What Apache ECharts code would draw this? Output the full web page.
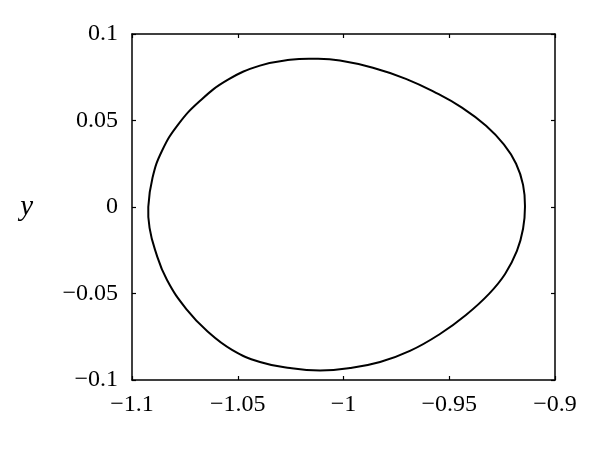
<!DOCTYPE html>
<html>
<head>
<meta charset="utf-8">
<script src="https://cdn.jsdelivr.net/npm/echarts@6/dist/echarts.min.js"></script>
<style>html,body{margin:0;padding:0;background:#fff}#c{width:600px;height:457px}</style>
</head>
<body>
<div id="c"></div>
<script>
// Closed orbit traced clockwise from the leftmost point
var orbitX = [-1.0923, -1.0903, -1.0858, -1.0783, -1.0678, -1.0546, -1.0395, -1.0253, -1.0135, -1.0017,
              -0.9861, -0.9705, -0.9563, -0.9440, -0.9326, -0.9241, -0.9184, -0.9151, -0.9142, -0.9151,
              -0.9180, -0.9236, -0.9312, -0.9421, -0.9544, -0.9686, -0.9827, -0.9969, -1.0111, -1.0253,
              -1.0395, -1.0527, -1.0645, -1.0740, -1.0835, -1.0891, -1.0917];
var orbitY = [0.0000, 0.0169, 0.0325, 0.0475, 0.0614, 0.0736, 0.0817, 0.0851, 0.0857, 0.0847,
              0.0805, 0.0741, 0.0660, 0.0574, 0.0469, 0.0360, 0.0250, 0.0128, 0.0000, -0.0126,
              -0.0254, -0.0387, -0.0502, -0.0624, -0.0734, -0.0832, -0.0896, -0.0931, -0.0945, -0.0931,
              -0.0896, -0.0826, -0.0717, -0.0595, -0.0421, -0.0248, -0.0121];
var xTickValues = [-1.1, -1.05, -1, -0.95, -0.9];
var xTickLabels = ["\u22121.1", "\u22121.05", "\u22121", "\u22120.95", "\u22120.9"];
var yTickValues = [-0.1, -0.05, 0, 0.05, 0.1];
var yTickLabels = ["\u22120.1", "\u22120.05", "0", "0.05", "0.1"];

function lab(vals, labs) {
  return function (v) {
    for (var i = 0; i < vals.length; i++) if (Math.abs(vals[i] - v) < 1e-9) return labs[i];
    return '';
  };
}
var font = "'Liberation Serif', 'DejaVu Serif', serif";
var axisLine = { show: true, onZero: false, lineStyle: { color: '#000', width: 1.5 } };
var tick = { show: true, inside: true, length: 4, lineStyle: { color: '#000', width: 1.2 } };
var data = orbitX.map(function (x, i) { return [x, orbitY[i]]; });

var chart = echarts.init(document.getElementById('c'), null, { renderer: 'canvas' });
chart.setOption({
  animation: false,
  backgroundColor: '#fff',
  grid: { left: 132, right: 45, top: 34, bottom: 77, containLabel: false },
  xAxis: [
    { type: 'value', min: -1.1, max: -0.9, interval: 0.05, position: 'bottom',
      axisLine: axisLine, axisTick: tick, splitLine: { show: false },
      axisLabel: { color: '#000', fontFamily: font, fontSize: 24, margin: 13,
                   formatter: lab(xTickValues, xTickLabels) } },
    { type: 'value', min: -1.1, max: -0.9, interval: 0.05, position: 'top',
      axisLine: axisLine, axisTick: tick, splitLine: { show: false }, axisLabel: { show: false } }
  ],
  yAxis: [
    { type: 'value', min: -0.1, max: 0.1, interval: 0.05, position: 'left',
      name: 'y', nameLocation: 'middle', nameGap: 99, nameRotate: 0,
      nameTextStyle: { color: '#000', fontFamily: font, fontStyle: 'italic', fontSize: 29,
                       padding: [10, 0, 0, 0] },
      axisLine: axisLine, axisTick: tick, splitLine: { show: false },
      axisLabel: { color: '#000', fontFamily: font, fontSize: 24, margin: 14,
                   formatter: lab(yTickValues, yTickLabels) } },
    { type: 'value', min: -0.1, max: 0.1, interval: 0.05, position: 'right',
      axisLine: axisLine, axisTick: tick, splitLine: { show: false }, axisLabel: { show: false } }
  ],
  series: [{
    type: 'custom',
    coordinateSystem: 'cartesian2d',
    encode: { x: 0, y: 1 },
    data: data,
    clip: false,
    renderItem: function (params, api) {
      if (params.dataIndex !== 0) return null;
      var pts = data.map(function (d) { return api.coord(d); });
      return {
        type: 'polygon',
        shape: { points: pts, smooth: 0.45 },
        style: { fill: 'none', stroke: '#000', lineWidth: 2 }
      };
    }
  }]
});
</script>
</body>
</html>
